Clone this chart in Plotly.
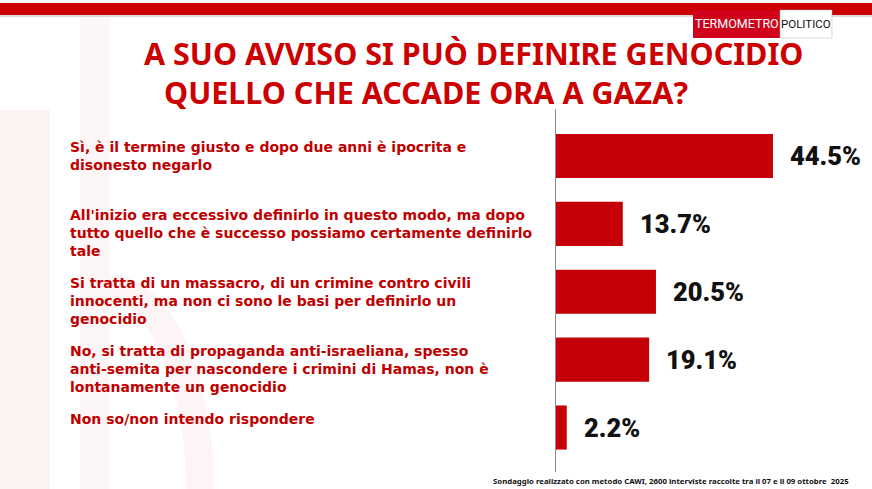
import plotly.graph_objects as go
import math

categories = [
    "Sì, è il termine giusto e dopo due anni è ipocrita e<br>disonesto negarlo",
    "All'inizio era eccessivo definirlo in questo modo, ma dopo<br>tutto quello che è successo possiamo certamente definirlo<br>tale",
    "Si tratta di un massacro, di un crimine contro civili<br>innocenti, ma non ci sono le basi per definirlo un<br>genocidio",
    "No, si tratta di propaganda anti-israeliana, spesso<br>anti-semita per nascondere i crimini di Hamas, non è<br>lontanamente un genocidio",
    "Non so/non intendo rispondere",
]
values = [44.5, 13.7, 20.5, 19.1, 2.2]
value_labels = ["44.5%", "13.7%", "20.5%", "19.1%", "2.2%"]

title_line1 = "A SUO AVVISO SI PUÒ DEFINIRE GENOCIDIO"
title_line2 = "QUELLO CHE ACCADE ORA A GAZA?"
footer = "Sondaggio realizzato con metodo CAWI, 2600 interviste raccolte tra il 07 e il 09 ottobre  2025"

W, H = 872, 489
L, R, T, B = 556, 0, 109, 17
PW = W - L - R
PH = H - T - B

def px(xp):
    return (xp - L) / PW

def py(yp):
    return (H - B - yp) / PH

RED = "#c50008"
TXT_RED = "#c00000"
VALFONT = "Roboto"

ypos = list(range(len(categories)))

fig = go.Figure()
fig.add_trace(go.Bar(
    x=values, y=ypos, orientation="h",
    marker=dict(color=RED, line=dict(width=0)),
    width=0.65, hoverinfo="skip",
))

annotations = []
for i, (v, lab) in enumerate(zip(values, value_labels)):
    annotations.append(dict(
        x=v, y=i, xref="x", yref="y", text=lab, showarrow=False,
        xanchor="left", yanchor="middle", xshift=15,
        font=dict(family=VALFONT, size=25.5, color="#111111", weight=900),
    ))
for i, c in enumerate(categories):
    annotations.append(dict(
        x=px(68), y=i, xref="paper", yref="y", text=c, showarrow=False,
        xanchor="left", yanchor="top", align="left", yshift=19,
        font=dict(family="DejaVu Sans", size=14, color=TXT_RED, weight="bold"),
    ))
annotations.append(dict(
    x=px(473), y=py(53), xref="paper", yref="paper", text="<b>" + title_line1 + "</b>",
    showarrow=False, xanchor="center", yanchor="middle",
    font=dict(family="Noto Sans", size=30.5, color="#cc0000"),
))
annotations.append(dict(
    x=px(162), y=py(92), xref="paper", yref="paper", text="<b>" + title_line2 + "</b>",
    showarrow=False, xanchor="left", yanchor="middle",
    font=dict(family="Noto Sans", size=30.5, color="#cc0000"),
))
annotations.append(dict(
    x=px(851), y=py(481), xref="paper", yref="paper", text="<b>" + footer + "</b>",
    showarrow=False, xanchor="right", yanchor="middle",
    font=dict(family="Noto Sans", size=7.8, color="#111111"),
))
# logo text
annotations.append(dict(
    x=px(736.5), y=py(24), xref="paper", yref="paper", text="TERMOMETRO",
    showarrow=False, xanchor="center", yanchor="middle",
    font=dict(family="Roboto", size=12.5, color="white"),
))
annotations.append(dict(
    x=px(806), y=py(24), xref="paper", yref="paper", text="POLITICO",
    showarrow=False, xanchor="center", yanchor="middle",
    font=dict(family="Roboto", size=11.5, color="#111111"),
))

shapes = []
# faint background decoration
shapes.append(dict(type="rect", xref="paper", yref="paper", x0=px(0), x1=px(50), y0=py(110), y1=py(489),
                   fillcolor="#fdf3f3", line=dict(width=0), layer="below"))
shapes.append(dict(type="rect", xref="paper", yref="paper", x0=px(80), x1=px(110), y0=py(16), y1=py(489),
                   fillcolor="#fdf6f6", line=dict(width=0), layer="below"))
arc_pts = []
for k in range(0, 41):
    a = -math.pi / 2 + math.pi / 2 * k / 40
    arc_pts.append((110 + 90 * math.cos(a), 489 + 200 * math.sin(a)))
path = "M " + " L ".join(f"{px(a):.4f},{py(b):.4f}" for a, b in arc_pts)
shapes.append(dict(type="path", xref="paper", yref="paper", path=path,
                   line=dict(color="#fdf5f5", width=28), layer="below"))
# top stripe
shapes.append(dict(type="rect", xref="paper", yref="paper", x0=px(0), x1=px(W), y0=py(15), y1=py(17),
                   fillcolor="#d9d9d9", line=dict(width=0)))
shapes.append(dict(type="rect", xref="paper", yref="paper", x0=px(0), x1=px(W), y0=py(3), y1=py(15),
                   fillcolor="#cc0000", line=dict(width=0)))
# logo
shapes.append(dict(type="rect", xref="paper", yref="paper", x0=px(693), x1=px(780), y0=py(10), y1=py(38),
                   fillcolor="#d0021b", line=dict(width=0)))
shapes.append(dict(type="rect", xref="paper", yref="paper", x0=px(780), x1=px(832), y0=py(10), y1=py(38),
                   fillcolor="white", line=dict(color="#bbbbbb", width=0.5)))

fig.update_layout(
    width=W, height=H,
    margin=dict(l=L, r=R, t=T, b=B),
    paper_bgcolor="white", plot_bgcolor="rgba(0,0,0,0)",
    showlegend=False,
    annotations=annotations, shapes=shapes,
    xaxis=dict(range=[0, PW / 4.876], visible=False, fixedrange=True),
    yaxis=dict(range=[4.655, -0.692], showticklabels=False, showgrid=False, zeroline=False,
               showline=True, linecolor="#8c8c8c", linewidth=1, ticks="", fixedrange=True),
    bargap=0.35,
)

fig.write_html(
    "out.html",
    config={"displayModeBar": False},
    post_script="document.body.style.margin='0';document.body.style.overflow='hidden';",
)
